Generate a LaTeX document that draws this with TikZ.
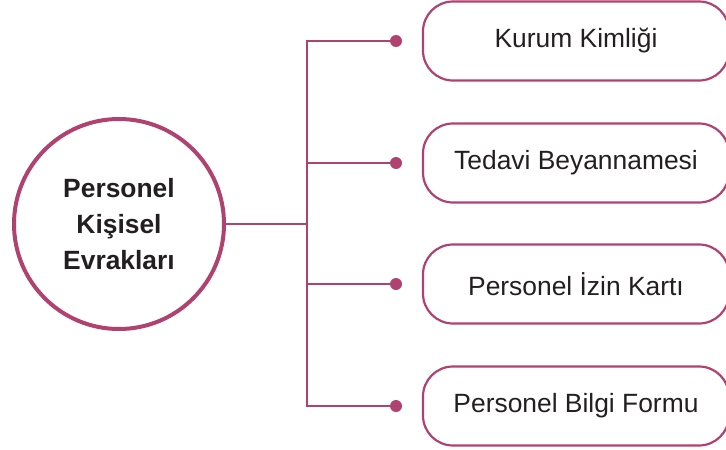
\documentclass[tikz,border=0pt]{standalone}
\usepackage{fontspec}
\setmainfont{Liberation Sans}
\definecolor{plum}{RGB}{176,66,112}
\definecolor{ink}{RGB}{35,31,32}

\begin{document}
\begin{tikzpicture}[x=1pt,y=-1pt,line cap=round,
    hub/.style={draw=plum,line width=4pt,circle,minimum size=210pt,inner sep=0pt,
        text=ink,font=\fontsize{26.4}{36}\selectfont\bfseries,align=center},
    item/.style={draw=plum,line width=2.2pt,rounded corners=30pt,minimum width=306pt,
        minimum height=79pt,inner sep=0pt,text=ink,font=\fontsize{26.4}{32}\selectfont},
    link/.style={draw=plum,line width=2pt},
    dot/.style={fill=plum,circle,minimum size=12pt,inner sep=0pt}]
    \useasboundingbox (0,0) rectangle (726,450);

    % draw the central circle
    \node[hub] (main) at (119,224) {Personel\\Kişisel\\Evrakları};

    % the junction on the trunk
    \coordinate (jn) at (307,224);
    \draw[link] (main) -- (jn);

    % draw each box with its dot and branch
    \foreach \i/\y/\xtext in {
        1/41/Kurum Kimliği,
        2/163/Tedavi Beyannamesi,
        3/284/Personel İzin Kartı,
        4/406/Personel Bilgi Formu} {
            \node[item] (box\i) at (576,\y) {\xtext};
            \node[dot] (dot\i) at (396,\y) {};
            \coordinate (br\i) at (307,\y);
            \draw[link] (br\i) -- (dot\i.center);
    }

    % the vertical trunk
    \draw[link,line cap=rect] (br1) -- (br4);
\end{tikzpicture}
\end{document}
